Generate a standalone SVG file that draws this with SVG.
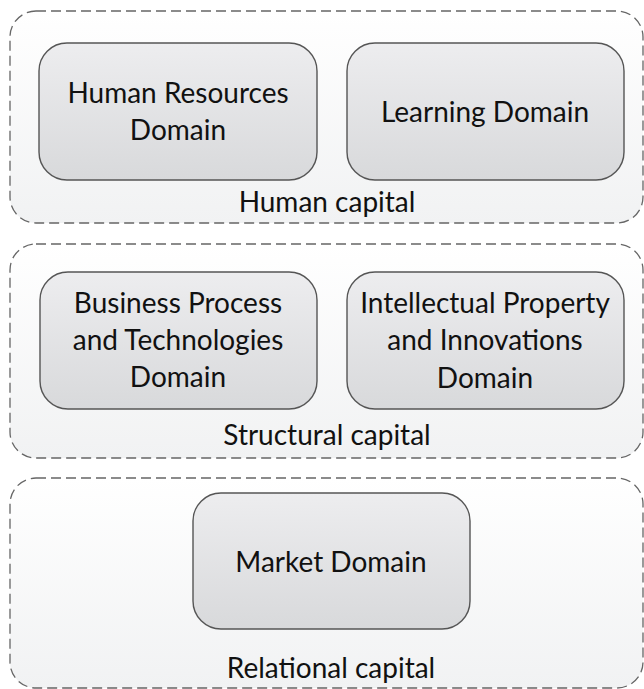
<svg xmlns="http://www.w3.org/2000/svg" width="644" height="689" viewBox="0 0 644 689">
  <defs>
    <linearGradient id="gCont" x1="0" y1="0" x2="0" y2="1">
      <stop offset="0" stop-color="#ffffff"/>
      <stop offset="1" stop-color="#f1f2f3"/>
    </linearGradient>
    <linearGradient id="gNode" x1="0" y1="0" x2="0" y2="1">
      <stop offset="0" stop-color="#ededef"/>
      <stop offset="1" stop-color="#d8d9db"/>
    </linearGradient>
  </defs>
  <style>
    .cont { fill: url(#gCont); stroke: #666666; stroke-width: 1.3; stroke-dasharray: 10 5; }
    .node { fill: url(#gNode); stroke: #555555; stroke-width: 1.4; }
    text { font-family: Lato, "Open Sans", "Liberation Sans", sans-serif; font-size: 28px; fill: #111111; text-anchor: middle; }
  </style>
  <g id="human-capital">
    <rect class="cont" x="10" y="11" width="633" height="212" rx="26" ry="26"/>
    <text x="327" y="212">Human capital</text>
  </g>
  <g id="structural-capital">
    <rect class="cont" x="10" y="244" width="633" height="214" rx="26" ry="26"/>
    <text x="327" y="445">Structural capital</text>
  </g>
  <g id="relational-capital">
    <rect class="cont" x="10" y="478" width="633" height="210" rx="26" ry="26"/>
    <text x="331" y="678">Relational capital</text>
  </g>
  <g id="human-resources-domain">
    <rect class="node" x="39" y="43" width="278" height="137" rx="28" ry="28"/>
    <text x="178" y="103">Human Resources</text>
    <text x="178" y="140">Domain</text>
  </g>
  <g id="learning-domain">
    <rect class="node" x="347" y="43" width="277" height="137" rx="28" ry="28"/>
    <text x="485" y="122">Learning Domain</text>
  </g>
  <g id="business-process-domain">
    <rect class="node" x="40" y="272" width="277" height="137" rx="28" ry="28"/>
    <text x="178" y="313">Business Process</text>
    <text x="178" y="350">and Technologies</text>
    <text x="178" y="387">Domain</text>
  </g>
  <g id="intellectual-property-domain">
    <rect class="node" x="347" y="272" width="277" height="137" rx="28" ry="28"/>
    <text x="485" y="313">Intellectual Property</text>
    <text x="485" y="350">and Innovations</text>
    <text x="485" y="388">Domain</text>
  </g>
  <g id="market-domain">
    <rect class="node" x="193" y="493" width="277" height="136" rx="28" ry="28"/>
    <text x="331" y="572">Market Domain</text>
  </g>
  <g id="connectors"/>
</svg>
